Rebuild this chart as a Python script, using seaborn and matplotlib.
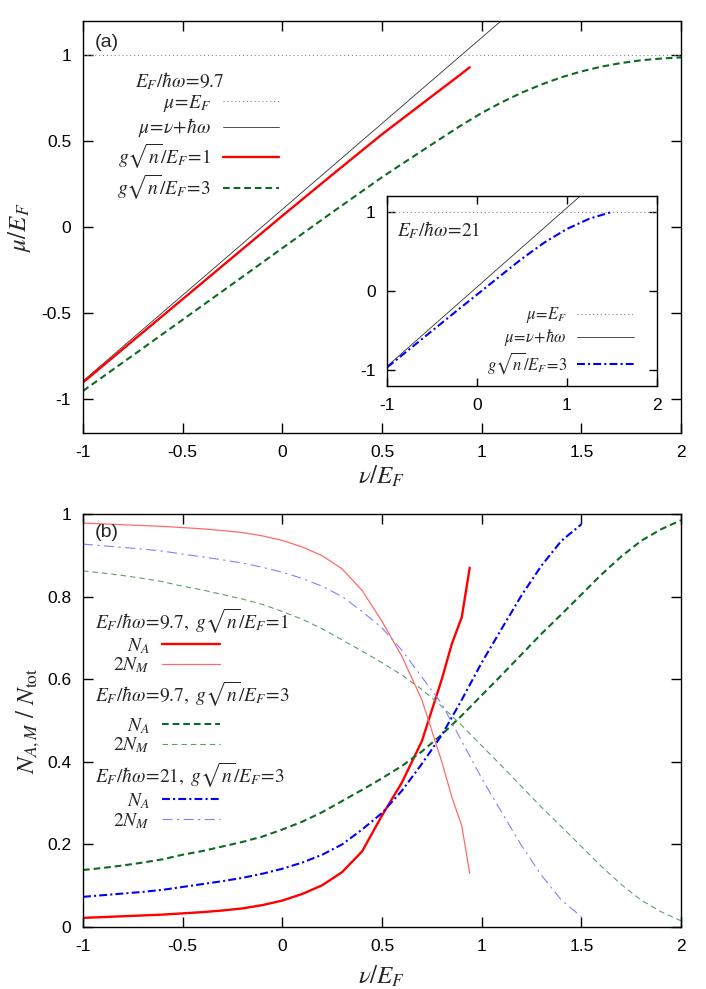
import matplotlib
matplotlib.use("Agg")
import matplotlib.pyplot as plt
from matplotlib.ticker import FuncFormatter
import numpy as np
import pandas as pd
import seaborn as sns

# ---------------- data: panel (a) ----------------
nu_ef = [-1.0, 2.0]
mu_ef = [1.0, 1.0]
nu_lin_a = [-1.0, 1.2]
mu_lin_a = [-0.897, 1.303]
nu_red_a = [-1.0, -0.5, 0.0, 0.25, 0.5, 0.7, 0.9, 0.94]
mu_red_a = [-0.905, -0.42, 0.065, 0.304, 0.54, 0.717, 0.894, 0.93]
nu_grn_a = [-1.0, -0.75, -0.5, -0.25, 0.0, 0.25, 0.5, 0.6, 0.7, 0.8, 0.9, 1.0,
            1.1, 1.2, 1.3, 1.4, 1.5, 1.6, 1.7, 1.8, 1.9, 2.0]
mu_grn_a = [-0.955, -0.748, -0.54, -0.332, -0.123, 0.085, 0.29, 0.367, 0.443, 0.519,
            0.594, 0.664, 0.726, 0.782, 0.830, 0.872, 0.906, 0.934, 0.955, 0.971, 0.981, 0.988]

# ---------------- data: inset ----------------
nu_lin_in = [-1.0, 1.2]
mu_lin_in = [-0.952, 1.248]
nu_blu_in = [-1.0, -0.75, -0.5, -0.25, 0.0, 0.25, 0.5, 0.75, 1.0, 1.25, 1.5]
mu_blu_in = [-0.966, -0.735, -0.505, -0.275, -0.048, 0.18, 0.405, 0.61, 0.78, 0.91, 0.995]

# ---------------- data: panel (b) ----------------
nu_red_b = [-1.0, -0.9, -0.8, -0.7, -0.6, -0.5, -0.4, -0.3, -0.2, -0.1, 0.0, 0.1,
            0.2, 0.3, 0.4, 0.5, 0.6, 0.7, 0.8, 0.85, 0.9, 0.94]
na_red = [0.022, 0.024, 0.026, 0.028, 0.030, 0.033, 0.036, 0.040, 0.045, 0.053, 0.064,
          0.080, 0.101, 0.133, 0.183, 0.270, 0.350, 0.450, 0.600, 0.685, 0.750, 0.870]
nm_red = [0.978, 0.976, 0.974, 0.972, 0.970, 0.967, 0.964, 0.960, 0.955, 0.947, 0.936,
          0.920, 0.899, 0.867, 0.815, 0.740, 0.655, 0.550, 0.400, 0.315, 0.245, 0.130]

nu_grn_b = [-1.0, -0.9, -0.8, -0.7, -0.6, -0.5, -0.4, -0.3, -0.2, -0.1, 0.0, 0.1, 0.2,
            0.3, 0.4, 0.5, 0.6, 0.7, 0.8, 0.9, 1.0, 1.1, 1.2, 1.3, 1.4, 1.5, 1.6, 1.7,
            1.8, 1.9, 2.0]
na_grn = [0.138, 0.143, 0.149, 0.156, 0.164, 0.175, 0.184, 0.195, 0.206, 0.219, 0.236,
          0.255, 0.278, 0.305, 0.332, 0.360, 0.390, 0.425, 0.466, 0.512, 0.561, 0.610,
          0.660, 0.710, 0.757, 0.805, 0.853, 0.897, 0.935, 0.963, 0.985]
nm_grn = [0.862, 0.857, 0.851, 0.844, 0.836, 0.825, 0.816, 0.805, 0.794, 0.781, 0.764,
          0.745, 0.722, 0.695, 0.668, 0.640, 0.610, 0.575, 0.534, 0.488, 0.439, 0.390,
          0.340, 0.290, 0.243, 0.195, 0.147, 0.103, 0.065, 0.037, 0.015]

nu_blu_b = [-1.0, -0.9, -0.8, -0.7, -0.6, -0.5, -0.4, -0.3, -0.2, -0.1, 0.0, 0.1, 0.2,
            0.3, 0.4, 0.5, 0.6, 0.7, 0.8, 0.9, 1.0, 1.1, 1.2, 1.3, 1.4, 1.5]
na_blu = [0.073, 0.077, 0.081, 0.085, 0.090, 0.097, 0.104, 0.111, 0.119, 0.129, 0.141,
          0.156, 0.175, 0.200, 0.236, 0.276, 0.330, 0.395, 0.465, 0.550, 0.640, 0.722,
          0.803, 0.875, 0.935, 0.975]
nm_blu = [0.927, 0.923, 0.919, 0.915, 0.910, 0.903, 0.896, 0.889, 0.881, 0.871, 0.859,
          0.844, 0.825, 0.800, 0.764, 0.724, 0.670, 0.605, 0.540, 0.450, 0.360, 0.278,
          0.197, 0.125, 0.065, 0.025]

x_ticks_main = [-1, -0.5, 0, 0.5, 1, 1.5, 2]
y_ticks_a = [-1, -0.5, 0, 0.5, 1]
y_ticks_b = [0, 0.2, 0.4, 0.6, 0.8, 1]
x_ticks_in = [-1, 0, 1, 2]
y_ticks_in = [-1, 0, 1]

# ---------------- style ----------------
sns.set_theme(style="ticks")
plt.rcParams["font.family"] = ["Liberation Sans", "DejaVu Sans"]
plt.rcParams["mathtext.fontset"] = "stix"
plt.rcParams["axes.unicode_minus"] = False
plt.rcParams["axes.linewidth"] = 1.0
plt.rcParams["axes.edgecolor"] = "black"

RED = "#ff0000"
RED_L = "#ff6a6a"
GRN = "#0b6b22"
GRN_L = "#5f9f6c"
BLU = "#0000ff"
BLU_L = "#8080ff"
GRAY = "#8a8a8a"

fig = plt.figure(figsize=(7.06, 9.89), dpi=100)
ax_a = fig.add_axes([0.1176, 0.5622, 0.8470, 0.4166])
ax_b = fig.add_axes([0.1176, 0.0627, 0.8470, 0.4176])
ax_in = fig.add_axes([0.5486, 0.610, 0.3816, 0.1921])


def draw(ax, x, y, **kw):
    df = pd.DataFrame({"x": x, "y": y})
    sns.lineplot(data=df, x="x", y="y", ax=ax, sort=False, estimator=None,
                 legend=False, **kw)
    return ax.lines[-1]


fmt = FuncFormatter(lambda v, p: "%g" % v)


def style_axes(ax, xt, yt, xlim, ylim, length=7, pad=8.5):
    ax.set_xlim(*xlim)
    ax.set_ylim(*ylim)
    ax.set_xticks(xt)
    ax.set_yticks(yt)
    ax.xaxis.set_major_formatter(fmt)
    ax.yaxis.set_major_formatter(fmt)
    ax.tick_params(direction="in", top=True, right=True, length=length, width=1.0,
                   labelsize=12.5, pad=pad, colors="black")
    for s in ax.spines.values():
        s.set_visible(True)
        s.set_linewidth(1.0)
        s.set_color("black")
    ax.set_xlabel("")
    ax.set_ylabel("")


EQ = r"\!=\!"

# ---------------- panel (a) ----------------
l_ef = draw(ax_a, nu_ef, mu_ef, color=GRAY, linewidth=0.8, linestyle=(0, (1, 2.5)))
l_lin = draw(ax_a, nu_lin_a, mu_lin_a, color="#303030", linewidth=0.6)
l_red = draw(ax_a, nu_red_a, mu_red_a, color=RED, linewidth=1.7)
l_grn = draw(ax_a, nu_grn_a, mu_grn_a, color=GRN, linewidth=1.5, linestyle=(0, (3.2, 1.9)))
style_axes(ax_a, x_ticks_main, y_ticks_a, (-1, 2), (-1.2, 1.2))
ax_a.set_xlabel(r"$\nu/E_F$", fontsize=18, labelpad=3)
ax_a.set_ylabel(r"$\mu/E_F$", fontsize=18, labelpad=6)
ax_a.text(0.02, 0.947, "(a)", transform=ax_a.transAxes, fontsize=14, va="center", ha="left")
ax_a.text(0.087, 0.853, r"$E_F/\hbar\omega" + EQ + r"9.7$", transform=ax_a.transAxes,
          fontsize=14, va="center", ha="left")
ax_a.legend(handles=[l_ef, l_lin, l_red, l_grn],
            labels=[r"$\mu" + EQ + r"E_F$", r"$\mu" + EQ + r"\nu\!+\!\hbar\omega$",
                    r"$g\sqrt{n}/E_F" + EQ + r"1$", r"$g\sqrt{n}/E_F" + EQ + r"3$"],
            loc="upper right", bbox_to_anchor=(0.328, 0.825), frameon=False,
            markerfirst=False, fontsize=14, handlelength=2.9, handletextpad=0.6,
            labelspacing=0.12, borderpad=0, borderaxespad=0)

# ---------------- inset ----------------
ax_in.set_facecolor("white")
i_ef = draw(ax_in, nu_ef, mu_ef, color=GRAY, linewidth=0.8, linestyle=(0, (1, 2.5)))
i_lin = draw(ax_in, nu_lin_in, mu_lin_in, color="#303030", linewidth=0.6)
i_blu = draw(ax_in, nu_blu_in, mu_blu_in, color=BLU, linewidth=1.5,
             linestyle=(0, (3.8, 1.5, 1, 1.5)))
style_axes(ax_in, x_ticks_in, y_ticks_in, (-1, 2), (-1.2, 1.2), length=5.5, pad=8.5)
ax_in.text(0.035, 0.82, r"$E_F/\hbar\omega" + EQ + r"21$", transform=ax_in.transAxes,
           fontsize=14, va="center", ha="left")
ax_in.legend(handles=[i_ef, i_lin, i_blu],
             labels=[r"$\mu" + EQ + r"E_F$", r"$\mu" + EQ + r"\nu\!+\!\hbar\omega$",
                     r"$g\sqrt{n}/E_F" + EQ + r"3$"],
             loc="lower right", bbox_to_anchor=(0.915, 0.05), frameon=False,
             markerfirst=False, fontsize=12, handlelength=3.4, handletextpad=0.6,
             labelspacing=0.12, borderpad=0, borderaxespad=0)

# ---------------- panel (b) ----------------
b_rna = draw(ax_b, nu_red_b, na_red, color=RED, linewidth=1.7)
b_rnm = draw(ax_b, nu_red_b, nm_red, color=RED_L, linewidth=0.9)
b_gna = draw(ax_b, nu_grn_b, na_grn, color=GRN, linewidth=1.5, linestyle=(0, (3.2, 1.9)))
b_gnm = draw(ax_b, nu_grn_b, nm_grn, color=GRN_L, linewidth=0.8, linestyle=(0, (5, 3.5)))
b_bna = draw(ax_b, nu_blu_b, na_blu, color=BLU, linewidth=1.5, linestyle=(0, (3.8, 1.5, 1, 1.5)))
b_bnm = draw(ax_b, nu_blu_b, nm_blu, color=BLU_L, linewidth=0.8, linestyle=(0, (9, 4, 2, 4)))
style_axes(ax_b, x_ticks_main, y_ticks_b, (-1, 2), (0, 1))
ax_b.set_xlabel(r"$\nu/E_F$", fontsize=18, labelpad=7)
ax_b.set_ylabel(r"$N_{A,M}\ /\ N_{\rm tot}$", fontsize=18, labelpad=4)
ax_b.text(0.02, 0.954, "(b)", transform=ax_b.transAxes, fontsize=14, va="center", ha="left")

headers = [r"$E_F/\hbar\omega" + EQ + r"9.7,\ g\sqrt{n}/E_F" + EQ + r"1$",
           r"$E_F/\hbar\omega" + EQ + r"9.7,\ g\sqrt{n}/E_F" + EQ + r"3$",
           r"$E_F/\hbar\omega" + EQ + r"21,\ g\sqrt{n}/E_F" + EQ + r"3$"]
header_y = [0.739, 0.562, 0.368]
leg_top = [0.705, 0.511, 0.329]
groups = [(b_rna, b_rnm), (b_gna, b_gnm), (b_bna, b_bnm)]
legs = []
for h, hy, ly, (h1, h2) in zip(headers, header_y, leg_top, groups):
    ax_b.text(0.02, hy, h, transform=ax_b.transAxes, fontsize=14, va="center", ha="left")
    leg = ax_b.legend(handles=[h1, h2], labels=[r"$N_A$", r"$2N_M$"],
                      loc="upper right", bbox_to_anchor=(0.229, ly), frameon=False,
                      markerfirst=False, fontsize=14, handlelength=3.0, handletextpad=0.6,
                      labelspacing=0.0, borderpad=0, borderaxespad=0)
    legs.append(leg)
for leg in legs[:-1]:
    ax_b.add_artist(leg)

fig.savefig("out.png", dpi=100)
